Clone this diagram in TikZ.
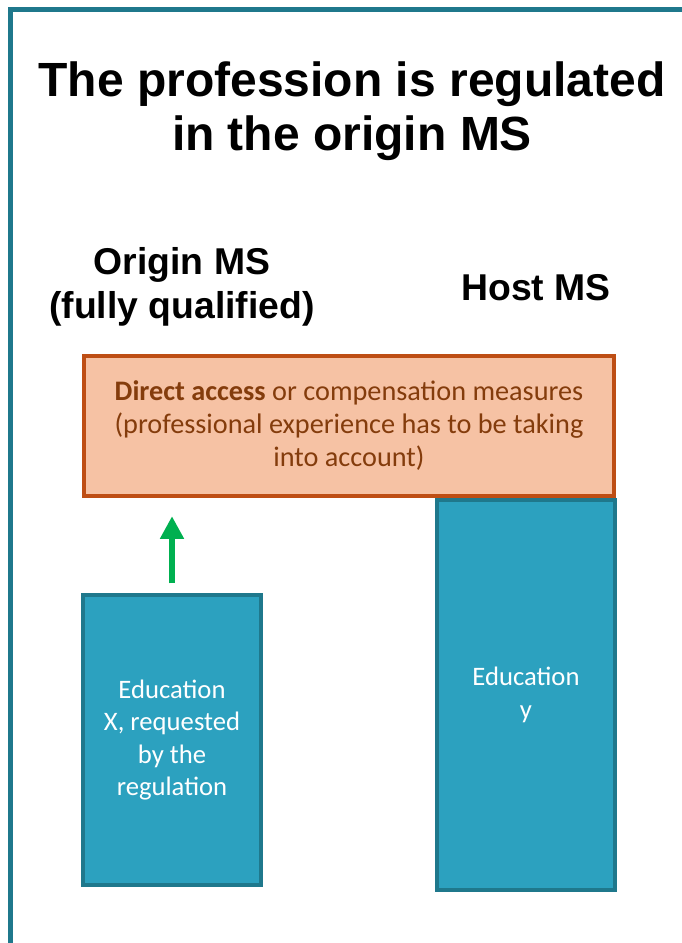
\documentclass[tikz,border=0pt]{standalone}
\usepackage{fontspec}
\setmainfont{Liberation Sans}
\newfontfamily\calibri{Carlito}
\usetikzlibrary{arrows.meta}

\definecolor{tealline}{RGB}{31,120,140}
\definecolor{tealfill}{RGB}{44,161,191}
\definecolor{peachfill}{RGB}{246,194,164}
\definecolor{rustline}{RGB}{190,78,20}
\definecolor{rusttext}{RGB}{132,60,12}
\definecolor{arrowgreen}{RGB}{0,176,80}

\tikzset{
  edubox/.style={draw=tealline, line width=3pt, fill=tealfill, text=white,
    inner sep=0pt, minimum width=134pt, align=center,
    font=\calibri\fontsize{20}{24.2}\selectfont},
  accessbox/.style={draw=rustline, line width=3pt, fill=peachfill, text=rusttext,
    inner sep=0pt, minimum width=398pt, minimum height=105pt, align=center,
    font=\calibri\fontsize{21.2}{24.6}\selectfont},
  heading/.style={align=center, font=\bfseries\fontsize{28}{32.5}\selectfont},
}

\begin{document}
\begin{tikzpicture}[x=0.75pt, y=-0.75pt]
    \useasboundingbox (0,0) rectangle (682,943);

    % Draw the frame (top and left only)
    \draw[tealline, line width=3.75pt] (10.5,943) -- (10.5,9.5) -- (682,9.5);

    % Title
    \node[align=center, font=\bfseries\fontsize{36}{40.5}\selectfont] (title) at (352,111)
        {The profession is regulated\\in the origin MS};

    % Column headings
    \node[heading] (origin) at (182,287) {Origin MS\\(fully qualified)};
    \node[heading] (host) at (536,288) {Host MS};

    % Draw the recognition box
    \node[accessbox] (access) at (349,425.5)
        {\textbf{Direct access} or compensation measures\\
         (professional experience has to be taking\\
         into account)};

    % Draw the education blocks
    \node[edubox, minimum height=218pt] (origbox) at (172,740)
        {Education\\X, requested\\by the\\regulation};
    \node[edubox, minimum height=292pt] (hostbox) at (526,695)
        {Education\\y};

    % Arrow up to the recognition box
    \draw[-{Triangle[width=17pt, length=17pt]}, arrowgreen, line width=4.5pt,
        shorten <=7pt, shorten >=14pt]
        (origbox.north) -- (origbox.north |- access.south);
\end{tikzpicture}
\end{document}
